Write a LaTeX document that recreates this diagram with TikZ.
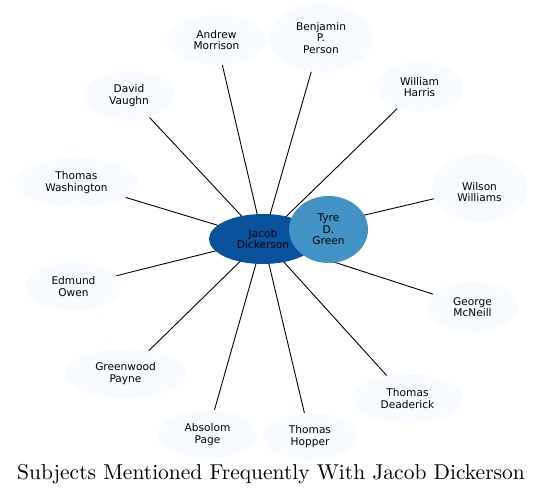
\documentclass[tikz,border=0pt]{standalone}
\usepackage{fontspec}
\newfontfamily\labelfont{DejaVu Sans}
\newfontfamily\titlefont{lmroman10-regular}[Extension=.otf]
\usetikzlibrary{shapes.geometric,backgrounds}
\definecolor{leaf}{HTML}{F7FBFF}
\definecolor{hub}{HTML}{08519C}
\definecolor{second}{HTML}{4292C6}
\tikzset{
  person/.style={ellipse, fill=leaf, inner sep=0pt, align=center,
    font=\labelfont\fontsize{10.6}{11.7}\selectfont},
  link/.style={draw=black, line width=0.9pt},
}
\begin{document}
\begin{tikzpicture}[x=1pt,y=-1pt]
\useasboundingbox (0,0) rectangle (543,498);
\node[person, minimum width=108, minimum height=50, fill=hub] (J) at (263,239) {Jacob\\Dickerson};
\node[person, minimum width=99, minimum height=50] (AM) at (216.5,40) {Andrew\\Morrison};
\node[person, minimum width=104, minimum height=68] (BP) at (321,38) {Benjamin\\P.\\Person};
\node[person, minimum width=87, minimum height=50] (WH) at (419.5,87) {William\\Harris};
\node[person, minimum width=90, minimum height=49] (DV) at (129,95.5) {David\\Vaughn};
\node[person, minimum width=123, minimum height=49] (TW) at (76.5,182.5) {Thomas\\Washington};
\node[person, minimum width=95, minimum height=68, align=none] (WW) at (479.5,188) {\raisebox{-5.7pt}[\height][\depth]{\begin{tabular}{@{}c@{}}Wilson\\Williams\end{tabular}}};
\node[person, minimum width=95, minimum height=48] (EO) at (73.5,286.5) {Edmund\\Owen};
\node[person, minimum width=91, minimum height=50] (GM) at (472.5,307) {George\\McNeill};
\node[person, minimum width=121, minimum height=49] (GP) at (125.5,373.5) {Greenwood\\Payne};
\node[person, minimum width=111, minimum height=49] (TD) at (407.5,398.5) {Thomas\\Deaderick};
\node[person, minimum width=99, minimum height=49] (AP) at (207.5,434.5) {Absolom\\Page};
\node[person, minimum width=94, minimum height=47] (TH) at (310,436.5) {Thomas\\Hopper};
\node[person, minimum width=79, minimum height=67, fill=second] (TG) at (328.5,229.5) {Tyre\\D.\\Green};
\begin{scope}[on background layer]
\foreach \n in {AM,BP,WH,DV,TW,WW,EO,GM,GP,TD,AP,TH}
  \draw[link] (J.center) -- (\n);
\end{scope}
\node[font=\titlefont\fontsize{21.5}{24}\selectfont, anchor=base, inner sep=0pt] (title) at (271,479.5) {Subjects Mentioned Frequently With Jacob Dickerson};
\end{tikzpicture}
\end{document}
